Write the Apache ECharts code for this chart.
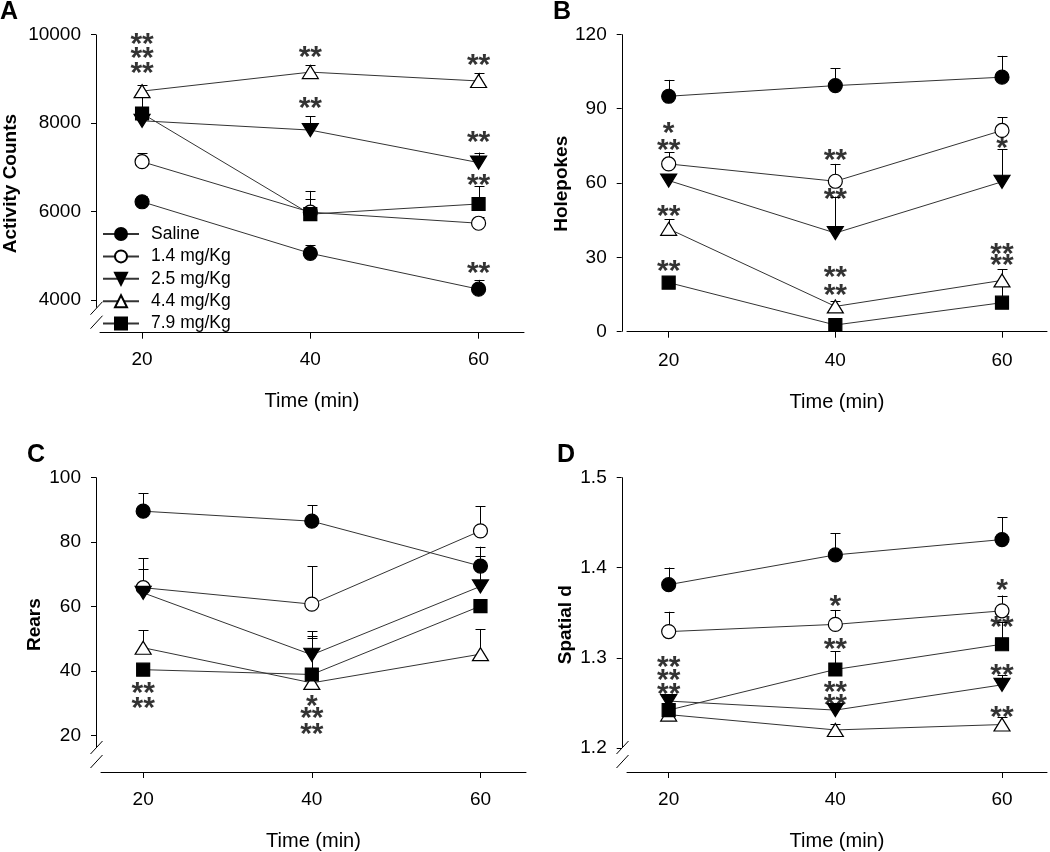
<!DOCTYPE html>
<html><head><meta charset="utf-8">
<script src="https://cdn.jsdelivr.net/npm/echarts@6/dist/echarts.min.js"></script>
<style>html,body{margin:0;padding:0;background:#fff}#c{width:1050px;height:852px}</style>
</head><body><div id="c"></div>
<script>
// ---------- DATA ----------
const times = [20, 40, 60];
const groups = ['Saline', '1.4 mg/Kg', '2.5 mg/Kg', '4.4 mg/Kg', '7.9 mg/Kg'];
const xTicks = [20, 40, 60];

// Panel A: Activity Counts (mean, +SEM)
const meanA = [[6220, 5055, 4245], [7125, 5985, 5735], [8050, 7840, 7105], [8720, 9150, 8950], [8215, 5940, 6170]];
const errA  = [[130, 190, 210], [190, 290, 150], [100, 316, 227], [145, 165, 183], [377, 525, 406]];
// Panel B: Holepokes
const meanB = [[95.0, 99.3, 102.7], [67.7, 60.7, 81.2], [61.0, 39.8, 60.5], [41.5, 10.2, 20.7], [19.8, 2.7, 11.7]];
const errB  = [[6.6, 7.1, 8.6], [4.7, 7.0, 5.4], [2.0, 14.7, 13.2], [4.0, 2.0, 4.5], [1.0, 1.0, 8.0]];
// Panel C: Rears
const meanC = [[89.5, 86.4, 72.5], [65.8, 60.7, 83.4], [64.2, 45.0, 66.2], [47.2, 36.3, 45.2], [40.4, 38.9, 60.1]];
const errC  = [[5.6, 4.9, 6.0], [5.7, 11.7, 7.6], [10.8, 7.3, 9.4], [5.4, 14.0, 7.8], [1.0, 12.0, 1.0]];
// Panel D: Spatial d
const meanD = [[1.381, 1.414, 1.431], [1.329, 1.337, 1.352], [1.252, 1.242, 1.270], [1.237, 1.220, 1.226], [1.242, 1.287, 1.315]];
const errD  = [[0.019, 0.024, 0.025], [0.022, 0.016, 0.017], [0.006, 0.008, 0.011], [0.005, 0.007, 0.008], [0.005, 0.020, 0.025]];

// Significance marks [time, level, text]
const starsA = [[20, 9899, '**'], [20, 9598, '**'], [20, 9243, '**'], [40, 9605, '**'], [40, 8452, '**'], [60, 9424, '**'], [60, 7684, '**'], [60, 6712, '**'], [60, 4723, '**']];
const starsB = [[20, 82.4, '*'], [20, 75.4, '**'], [20, 48.7, '**'], [20, 26.7, '**'], [40, 71.6, '**'], [40, 55.5, '**'], [40, 24.0, '**'], [40, 17.1, '**'], [60, 76.3, '*'], [60, 33.3, '**'], [60, 29.2, '**']];
const starsC = [[20, 34.8, '**'], [20, 30.1, '**'], [40, 30.9, '*'], [40, 27.1, '**'], [40, 22.2, '**']];
const starsD = [[20, 1.2952, '**'], [20, 1.2807, '**'], [20, 1.2661, '**'], [40, 1.3631, '*'], [40, 1.3159, '**'], [40, 1.2679, '**'], [40, 1.2534, '**'], [60, 1.3806, '*'], [60, 1.3399, '**'], [60, 1.2872, '**'], [60, 1.2399, '**']];

const yTicksA = [4000, 6000, 8000, 10000];
const yTicksB = [0, 30, 60, 90, 120];
const yTicksC = [20, 40, 60, 80, 100];
const yTicksD = [1.2, 1.3, 1.4, 1.5];

// ---------- LAYOUT / STYLE ----------
const FONT = 'Liberation Sans, Arial, sans-serif';
const panels = [
  { letter: 'A', lx: 0, ly: 0, grid: { left: 99, top: 34.5, width: 425, height: 298.2 }, yMin: 3261, yMax: 10000, off: 4, broken: true, name: 'Activity Counts', gap: 76, ticks: yTicksA, mean: meanA, err: errA, stars: starsA, fmt: v => String(v) },
  { letter: 'B', lx: 553, ly: 0, grid: { left: 627, top: 34.3, width: 420, height: 299 }, yMin: -0.65, yMax: 120, off: 5.3, broken: false, name: 'Holepokes', gap: 49, ticks: yTicksB, mean: meanB, err: errB, stars: starsB, fmt: v => String(v) },
  { letter: 'C', lx: 27, ly: 443, grid: { left: 101, top: 477.3, width: 425, height: 298.7 }, yMin: 8.69, yMax: 100, off: 5, broken: true, name: 'Rears', gap: 52, ticks: yTicksC, mean: meanC, err: errC, stars: starsC, fmt: v => String(v) },
  { letter: 'D', lx: 557, ly: 443, grid: { left: 627, top: 477.3, width: 420, height: 299.4 }, yMin: 1.1734, yMax: 1.5, off: 5.3, broken: true, name: 'Spatial d', gap: 46, ticks: yTicksD, mean: meanD, err: errD, stars: starsD, fmt: v => Number(v).toFixed(1) }
];
const symbols = ['circle', 'circle', 'triangle', 'triangle', 'rect'];
const fills = ['#000', '#fff', '#000', '#fff', '#000'];
const rots = [0, 0, 180, 0, 0];
const sizes = [14, 14, [16, 13], [16, 13], 13];

const chart = echarts.init(document.getElementById('c'), null, { renderer: 'canvas' });

const grids = [], xAxes = [], yAxes = [], series = [], titles = [];
panels.forEach((p, k) => {
  grids.push(p.grid);
  titles.push({ text: p.letter, left: p.lx, top: p.ly, padding: 0, textStyle: { fontFamily: FONT, fontSize: 25, fontWeight: 'bold', color: '#000' } });
  xAxes.push({
    type: 'value', gridIndex: k, min: 15, max: 65.4,
    name: 'Time (min)', nameLocation: 'middle', nameGap: 59,
    nameTextStyle: { fontFamily: FONT, fontSize: 20, color: '#000' },
    axisLine: { show: true, lineStyle: { color: '#000', width: 1 } },
    axisTick: { show: true, length: 6, lineStyle: { color: '#000' }, customValues: xTicks },
    axisLabel: { fontFamily: FONT, fontSize: 19, color: '#000', margin: 18, customValues: xTicks },
    splitLine: { show: false }
  });
  yAxes.push({
    type: 'value', gridIndex: k, min: p.yMin, max: p.yMax, offset: p.off,
    name: p.name, nameLocation: 'middle', nameGap: p.gap,
    nameTextStyle: { fontFamily: FONT, fontSize: 19, fontWeight: 'bold', color: '#000' },
    axisLine: { show: false },
    axisTick: { show: true, length: 5, lineStyle: { color: '#000' }, customValues: p.ticks },
    axisLabel: { fontFamily: FONT, fontSize: 19, color: '#000', margin: 15, customValues: p.ticks, formatter: p.fmt },
    splitLine: { show: false }
  });
  // error bars (upper only)
  const ebData = [];
  p.mean.forEach((row, g) => row.forEach((m, i) => ebData.push([times[i], m, m + p.err[g][i]])));
  series.push({
    type: 'custom', xAxisIndex: k, yAxisIndex: k, z: 1, silent: true, data: ebData,
    renderItem: (params, api) => {
      const a = api.coord([api.value(0), api.value(1)]);
      const b = api.coord([api.value(0), api.value(2)]);
      const x = Math.round(a[0]) + 0.5;
      return { type: 'group', children: [
        { type: 'line', shape: { x1: x, y1: a[1], x2: x, y2: b[1] }, style: { stroke: '#000', lineWidth: 1 } },
        { type: 'line', shape: { x1: x - 5, y1: Math.round(b[1]) + 0.5, x2: x + 5, y2: Math.round(b[1]) + 0.5 }, style: { stroke: '#000', lineWidth: 1 } }
      ] };
    }
  });
  // lines with markers
  p.mean.forEach((row, g) => {
    series.push({
      type: 'line', name: groups[g], xAxisIndex: k, yAxisIndex: k, z: 2,
      data: row.map((v, i) => [times[i], v]),
      symbol: symbols[g], symbolSize: sizes[g], symbolRotate: rots[g], showAllSymbol: true,
      lineStyle: { color: '#333', width: 1 },
      itemStyle: { color: fills[g], borderColor: '#000', borderWidth: 1.2, opacity: 1 },
      emphasis: { disabled: true }, silent: true
    });
  });
  // asterisks
  series.push({
    type: 'scatter', xAxisIndex: k, yAxisIndex: k, z: 5, silent: true,
    symbolSize: 0, itemStyle: { color: '#000' },
    data: p.stars.map(s => ({ value: [s[0], s[1]], name: s[2] })),
    label: { show: true, position: 'inside', formatter: '{b}', fontFamily: FONT, fontSize: 30, fontWeight: 'bold', color: '#000', textBorderWidth: 0, offset: [0, 6] },
    emphasis: { disabled: true }
  });
});

chart.setOption({
  animation: false,
  backgroundColor: '#fff',
  title: titles,
  grid: grids,
  xAxis: xAxes,
  yAxis: yAxes,
  legend: {
    show: true, orient: 'vertical', left: 102, top: 225, padding: 0,
    itemWidth: 36, itemHeight: 15, itemGap: 4.4,
    data: groups, selectedMode: false,
    textStyle: { fontFamily: FONT, fontSize: 17.5, color: '#000', lineHeight: 17, padding: [0, 0, 0, 7] }
  },
  series: series
});

// y axis lines with break marks (decoration computed from axis scales)
const gfx = [];
panels.forEach((p, k) => {
  const top = chart.convertToPixel({ gridIndex: k }, [15, p.yMax]);
  const bot = chart.convertToPixel({ gridIndex: k }, [15, p.yMin]);
  const ax = Math.round(top[0] - p.off) + 0.5;
  const b = bot[1];
  const end = p.broken ? b - 25 : chart.convertToPixel({ gridIndex: k }, [15, 0])[1];
  gfx.push({ type: 'line', shape: { x1: ax, y1: top[1], x2: ax, y2: end }, style: { stroke: '#000', lineWidth: 1 }, silent: true });
  if (p.broken) {
    gfx.push({ type: 'line', shape: { x1: ax - 6, y1: b - 18, x2: ax + 6, y2: b - 31 }, style: { stroke: '#000', lineWidth: 1 }, silent: true });
    gfx.push({ type: 'line', shape: { x1: ax - 6, y1: b - 4, x2: ax + 6, y2: b - 17 }, style: { stroke: '#000', lineWidth: 1 }, silent: true });
  }
});
chart.setOption({ graphic: gfx });
</script></body></html>
